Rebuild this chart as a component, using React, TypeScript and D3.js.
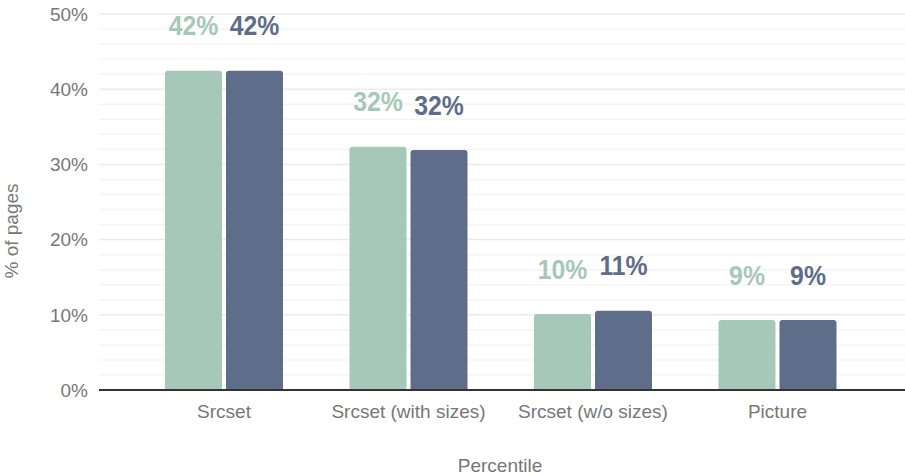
import React from "react";
import * as d3 from "d3";

const categories = ["Srcset", "Srcset (with sizes)", "Srcset (w/o sizes)", "Picture"];
const seriesKeys = ["desktop", "mobile"];
const desktopValues = [42.45, 32.35, 10.1, 9.3];
const mobileValues = [42.45, 31.9, 10.55, 9.3];
const yTicks = [0, 10, 20, 30, 40, 50];
const minorTicks = d3.range(0, 51, 2);

const W = 905;
const H = 476;
const FONT = "'Liberation Sans', Arial, Helvetica, sans-serif";
const colors: Record<string, string> = { desktop: "#a6c8b8", mobile: "#5e6d89" };

function topRoundedBar(x: number, y: number, w: number, h: number, r: number) {
  const rr = Math.min(r, h, w / 2);
  return `M${x},${y + h}V${y + rr}Q${x},${y} ${x + rr},${y}H${x + w - rr}Q${x + w},${y} ${x + w},${y + rr}V${y + h}Z`;
}

export default function App() {
  const x = d3.scaleBand<string>().domain(categories).range([131.75, 869.75]).padding(0);
  const groupW = 118;
  const inner = d3.scaleBand<string>().domain(seriesKeys).range([0, groupW]).paddingInner(0.0656).paddingOuter(0);
  const y = d3.scaleLinear().domain([0, 50]).range([390, 14]);
  const series: Record<string, number[]> = { desktop: desktopValues, mobile: mobileValues };

  return (
    <svg width={W} height={H} style={{ position: "absolute", left: 0, top: 0, background: "#fff" }} fontFamily={FONT}>
      {/* grid */}
      {minorTicks.map((t) => (
        <line key={"m" + t} x1={99} x2={905} y1={y(t)} y2={y(t)} stroke={t % 10 === 0 ? "#ebebeb" : "#f4f4f4"} strokeWidth={1.5} />
      ))}
      {yTicks.map((t) => (
        <text key={"t" + t} x={88} y={y(t)} dy="0.36em" textAnchor="end" fontSize={19} fill="#777">
          {d3.format(".0f")(t)}%
        </text>
      ))}
      {/* bars */}
      {categories.map((c, i) => {
        const gx = (x(c) as number) + (x.bandwidth() - groupW) / 2;
        return (
          <g key={c}>
            {seriesKeys.map((k) => {
              const v = series[k][i];
              const bx = gx + (inner(k) as number);
              const bw = inner.bandwidth();
              return (
                <g key={k}>
                  <path d={topRoundedBar(bx, y(v), bw, y(0) - y(v), 3)} fill={colors[k]} />
                  <text
                    transform={`translate(${bx + bw / 2},${y(v) - 35.5}) scale(0.87,1)`}
                    textAnchor="middle"
                    fontSize={28.5}
                    fontWeight="bold"
                    fill={colors[k]}
                  >
                    {Math.round(v)}%
                  </text>
                </g>
              );
            })}
            <text x={(x(c) as number) + x.bandwidth() / 2} y={418} textAnchor="middle" fontSize={19} fill="#777">
              {c}
            </text>
          </g>
        );
      })}
      <line x1={99} x2={905} y1={y(0)} y2={y(0)} stroke="#333" strokeWidth={2} />
      <text x={500} y={472} textAnchor="middle" fontSize={19} fill="#777">
        Percentile
      </text>
      <text transform="translate(18,231) rotate(-90)" textAnchor="middle" fontSize={19} fill="#777">
        % of pages
      </text>
    </svg>
  );
}
